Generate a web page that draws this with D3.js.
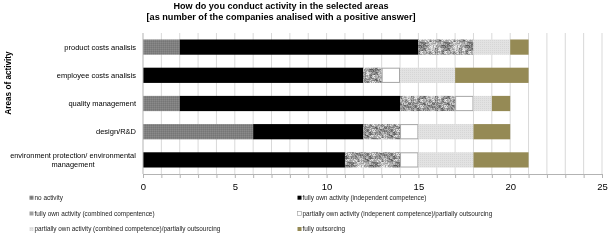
<!DOCTYPE html>
<html><head><meta charset="utf-8">
<script src="https://cdn.jsdelivr.net/npm/d3@7"></script>
<style>body{margin:0;background:#fff}svg{display:block;font-family:"Liberation Sans",Arial,sans-serif;will-change:transform}text{fill:#000}</style>
</head><body><svg id="c" width="609" height="242"></svg>
<script>
const categories = ["product costs analisis","employee costs analisis","quality management","design/R&D","environment protection/ environmental management"];
const seriesNames = ["no activity","fully own activity (independent competence)","fully own activity (combined compentence)","partially own activity (indepenent competence)/partially outsourcing","partially own activity (combined competence)/partially outsourcing","fully outsorcing"];
const noActivity        = [2, 0, 2, 6, 0];
const ownIndependent    = [13, 12, 12, 6, 11];
const ownCombined       = [3, 1, 3, 2, 3];
const partIndependent   = [0, 1, 1, 1, 1];
const partCombined      = [2, 3, 1, 3, 3];
const fullyOutsourcing  = [1, 4, 1, 2, 3];
const xTicks = [0,5,10,15,20,25];
const titleLines = ["How do you conduct activity in the selected areas","[as number of the companies  analised with  a positive answer]"];
const yTitle = "Areas of activity";

const series = [noActivity, ownIndependent, ownCombined, partIndependent, partCombined, fullyOutsourcing];
const svg = d3.select("#c");
const defs = svg.append("defs");

// textures
const p1 = defs.append("pattern").attr("id","pGray").attr("width",2).attr("height",2).attr("patternUnits","userSpaceOnUse");
p1.append("rect").attr("width",2).attr("height",2).attr("fill","#808080");
p1.append("rect").attr("width",1).attr("height",1).attr("fill","#8a8a8a");
p1.append("rect").attr("x",1).attr("y",1).attr("width",1).attr("height",1).attr("fill","#767676");

function hash(a,b,s){let h=(a*374761393 + b*668265263 + s*2147483647)|0;h=Math.imul(h^(h>>>13),1274126177);h^=h>>>16;return (h>>>0)/4294967296;}
const N=24;
const p2 = defs.append("pattern").attr("id","pSpeck").attr("width",N).attr("height",N).attr("patternUnits","userSpaceOnUse");
for (let i=0;i<N;i++) for (let j=0;j<N;j++) {
  const coarse = hash(Math.floor(i/3),Math.floor(j/3),7);
  const fine = hash(i,j,3);
  const v = 0.55*coarse + 0.45*fine;
  const g = Math.round(70 + v*185);
  p2.append("rect").attr("x",i).attr("y",j).attr("width",1).attr("height",1).attr("fill",`rgb(${g},${g},${g})`);
}
const p3 = defs.append("pattern").attr("id","pLight").attr("width",2).attr("height",2).attr("patternUnits","userSpaceOnUse");
p3.append("rect").attr("width",2).attr("height",2).attr("fill","#e2e2e2");
p3.append("rect").attr("width",1).attr("height",1).attr("fill","#d6d6d6");

const fills = ["url(#pGray)","#000000","url(#pSpeck)","#ffffff","url(#pLight)","#958a55"];
const strokes = ["none","none","none","#a6a6a6","none","none"];

const margin = {left:143, right:602, top:33, bottom:174};
const x = d3.scaleLinear().domain([0,25]).range([margin.left, margin.right]);
const y = d3.scaleBand().domain(categories).range([margin.top, margin.bottom]).paddingInner(0.46).paddingOuter(0.23);

// gridlines
svg.append("g").selectAll("line").data(d3.range(1,26)).join("line")
  .attr("x1",d=>x(d)).attr("x2",d=>x(d)).attr("y1",margin.top).attr("y2",margin.bottom)
  .attr("stroke","#d9d9d9").attr("stroke-width",1);

// stacked bars
const stackData = categories.map((c,i)=>{const o={cat:c}; series.forEach((s,k)=>o["s"+k]=s[i]); return o;});
const stacked = d3.stack().keys(series.map((s,k)=>"s"+k))(stackData);
stacked.forEach((layer,k)=>{
  svg.append("g").selectAll("rect").data(layer.filter(d=>d[1]-d[0]>0)).join("rect")
    .attr("x",d=>x(d[0])+(k===3?0.5:0)).attr("width",d=>x(d[1])-x(d[0])-(k===3?1:0))
    .attr("y",d=>y(d.data.cat)+(k===3?0.5:0)).attr("height",y.bandwidth()-(k===3?1:0))
    .attr("fill",fills[k]).attr("stroke",strokes[k]).attr("stroke-width",1);
});

const T = svg.append("g");

// axes
const xAxis = d3.axisBottom(x).tickValues(d3.range(0,26)).tickSize(4).tickFormat(d=>xTicks.includes(d)?d:"");
const gx = svg.append("g").attr("transform",`translate(0,${margin.bottom})`).call(xAxis);
gx.select(".domain").attr("stroke","#b3b3b3");
gx.selectAll(".tick line").attr("stroke","#b3b3b3");
gx.selectAll(".tick text").attr("font-size",9.5).attr("fill","#000").attr("dy","0.95em").attr("font-family","'Liberation Sans',Arial,sans-serif");
svg.append("line").attr("x1",x(0)).attr("x2",x(0)).attr("y1",margin.top).attr("y2",margin.bottom).attr("stroke","#b3b3b3");

// category labels
const catLines = [["product costs analisis"],["employee costs analisis"],["quality management"],["design/R&D"],["environment protection/ environmental","management"]];
categories.forEach((c,i)=>{
  const lines = catLines[i];
  const cy = y(c)+y.bandwidth()/2;
  if (lines.length===1) {
    T.append("text").attr("x",136).attr("y",cy).attr("dy","0.35em").attr("text-anchor","end")
      .attr("font-size",7.5).text(lines[0]);
  } else {
    T.append("text").attr("x",73).attr("y",cy-4.3).attr("dy","0.35em").attr("text-anchor","middle")
      .attr("font-size",7.4).text(lines[0]);
    T.append("text").attr("x",73).attr("y",cy+4.3).attr("dy","0.35em").attr("text-anchor","middle")
      .attr("font-size",7.4).text(lines[1]);
  }
});

// titles
T.append("text").attr("x",281).attr("y",8.5).attr("text-anchor","middle").attr("font-weight","bold")
  .attr("font-size",9).attr("textLength",215).attr("lengthAdjust","spacingAndGlyphs").text(titleLines[0]);
T.append("text").attr("x",281).attr("y",20).attr("text-anchor","middle").attr("font-weight","bold")
  .attr("font-size",9).attr("textLength",269).attr("lengthAdjust","spacingAndGlyphs").text(titleLines[1]);
T.append("text").attr("transform","translate(10.5,83) rotate(-90)").attr("text-anchor","middle")
  .attr("font-weight","bold").attr("font-size",8.2).text(yTitle);

// legend
const legPos = [[30,197.7],[298,197.7],[30,213.5],[298,213.5],[30,229],[298,229]];
const lg = svg.append("g");
seriesNames.forEach((n,k)=>{
  const [lx,ly] = legPos[k];
  lg.append("rect").attr("x",lx-0.5).attr("y",ly-2).attr("width",4).attr("height",4)
    .attr("fill",fills[k]==="url(#pSpeck)"?"#a0a0a0":fills[k]).attr("stroke",k===3?"#999":"none").attr("stroke-width",0.6);
  lg.append("text").attr("x",lx+4.5).attr("y",ly).attr("dy","0.35em").attr("font-size",6.4).style("fill","#222").text(n);
});
</script></body></html>
